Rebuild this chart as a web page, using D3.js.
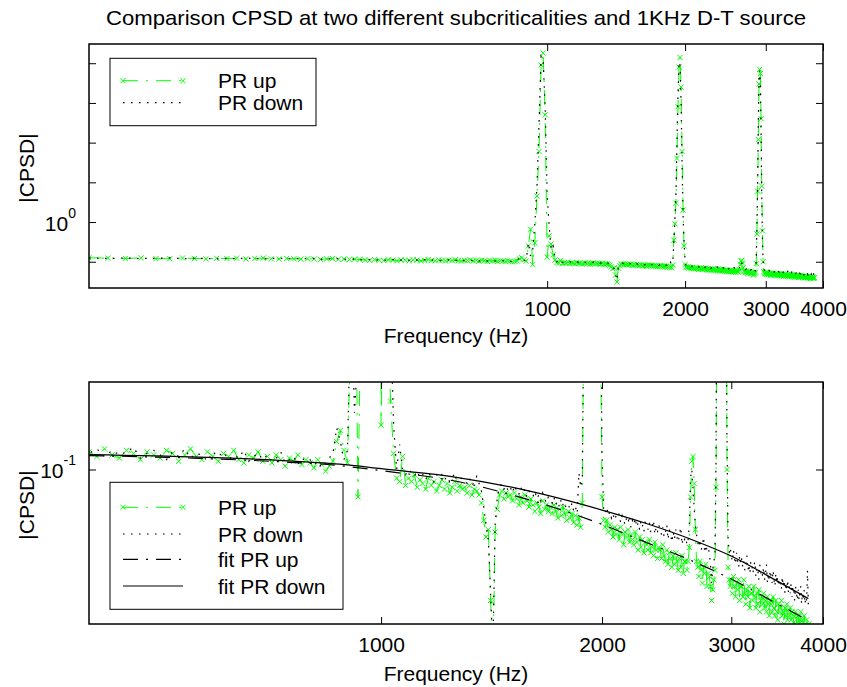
<!DOCTYPE html>
<html><head><meta charset="utf-8">
<script src="https://cdn.jsdelivr.net/npm/d3@7"></script>
<style>
body{margin:0;background:#fff}
svg text{font-family:"Liberation Sans",Arial,Helvetica,sans-serif;fill:#000}
</style>
</head><body>
<svg id="chart" width="847" height="687"></svg>
<script>
// ---------------- data ----------------
const titleText = "Comparison CPSD at two different subcriticalities and 1KHz D-T source";
const xLabelText = "Frequency (Hz)";
const yLabelText = "|CPSD|";
// FFT bin grid (Hz)
const freqStartHz = 100, freqStepHz = 10;
// |CPSD| "PR up" (one value per bin, 100 ... 3830 Hz)
const prUp = [
 .126,.123,.121,.125,.120,.119,.124,.121,.118,.122,
 .120,.123,.118,.121,.124,.118,.117,.121,.119,.116,
 .119,.117,.114,.118,.120,.115,.117,.113,.116,.114,
 .111,.108,.113,.109,.107,.112,.110,.106,.111,.109,
 .107,.112,.110,.105,.109,.113,.108,.106,.111,.108,
 .105,.110,.108,.112,.106,.104,.109,.107,.111,.105,
 .108,.104,.109,.106,.102,.107,.105,.109,.103,.106,
 .104,.101,.106,.103,.099,.102,.105,.118,.126,.112,
 .104,.25,.66,.085,.30,4.5,60,9000,18000,500,
 .13,.45,.28,.15,.11,.095,.093,.108,.091,.095,
 .093,.097,.090,.094,.092,.089,.095,.091,.093,.088,
 .091,.094,.089,.092,.087,.090,.093,.088,.091,.089,
 .090,.087,.091,.086,.089,.088,.086,.082,.074,.067,
 .070,.046,.031,.069,.079,.086,.088,.084,.087,.085,
 .086,.083,.087,.084,.081,.085,.082,.086,.083,.080,
 .084,.081,.078,.082,.080,.077,.083,.079,.081,.078,
 .080,.077,.081,.078,.075,.079,.076,.080,.077,.074,
 .078,.075,.077,.073,.076,.072,.075,.071,.082,.35,
 .90,3,40,800,8000,14000,2500,60,2,.25,
 .085,.074,.071,.074,.069,.072,.070,.067,.071,.068,
 .070,.066,.071,.068,.064,.069,.067,.070,.065,.068,
 .066,.064,.069,.065,.062,.067,.063,.066,.061,.065,
 .064,.062,.066,.061,.063,.060,.065,.062,.059,.063,
 .062,.059,.064,.060,.058,.062,.057,.061,.059,.056,
 .060,.057,.061,.058,.055,.059,.056,.060,.054,.058,
 .058,.055,.058,.063,.085,.105,.108,.092,.070,.058,
 .056,.053,.058,.055,.051,.056,.054,.057,.050,.054,
 .053,.050,.046,.049,.052,.055,.090,.50,6,120,
 3000,7000,5500,400,8,.60,.10,.056,.052,.050,
 .052,.048,.053,.050,.047,.051,.049,.052,.046,.050,
 .050,.047,.052,.048,.045,.049,.047,.050,.044,.048,
 .048,.046,.050,.047,.044,.048,.045,.049,.043,.046,
 .047,.045,.048,.044,.046,.043,.047,.045,.042,.046,
 .045,.043,.047,.044,.042,.046,.043,.041,.045,.043,
 .044,.046,.042,.043,.040,.044,.042,.045,.041,.043,
 .042,.044,.041,.043,.039,.042,.040,.043,.041,.039,
 .042,.040,.041,.043,.039,.041,.038,.042,.040,.039,
 .041,.039,.038,.040
];
// |CPSD| "PR down"
const prDown = [
 .124,.121,.125,.120,.122,.126,.119,.123,.121,.118,
 .122,.119,.124,.120,.117,.121,.123,.118,.120,.122,
 .118,.121,.116,.119,.117,.120,.115,.118,.116,.113,
 .110,.113,.108,.112,.109,.111,.114,.107,.110,.112,
 .109,.106,.111,.108,.113,.107,.110,.109,.105,.111,
 .108,.111,.106,.109,.107,.112,.105,.108,.110,.106,
 .109,.105,.107,.111,.104,.106,.108,.103,.107,.105,
 .106,.103,.105,.101,.104,.107,.110,.128,.118,.106,
 .112,.30,.14,.20,.90,8,300,15000,12000,800,
 5,.80,.20,.25,.13,.10,.116,.099,.097,.100,
 .098,.096,.099,.095,.097,.094,.098,.096,.093,.097,
 .095,.097,.094,.096,.093,.095,.098,.092,.096,.094,
 .094,.092,.095,.091,.093,.096,.092,.088,.080,.072,
 .066,.048,.034,.072,.085,.090,.092,.089,.091,.088,
 .090,.087,.091,.088,.086,.090,.087,.089,.085,.088,
 .087,.085,.088,.084,.086,.083,.087,.084,.082,.085,
 .084,.082,.085,.081,.083,.080,.084,.081,.079,.082,
 .081,.079,.082,.078,.080,.077,.098,.090,.095,.30,
 1.2,5,100,1500,11000,9000,1200,30,1.5,.30,
 .110,.079,.077,.080,.076,.078,.075,.077,.074,.076,
 .075,.077,.073,.076,.074,.072,.075,.073,.076,.071,
 .074,.072,.075,.071,.073,.070,.074,.072,.069,.073,
 .072,.070,.073,.069,.071,.074,.068,.071,.069,.072,
 .070,.068,.071,.067,.069,.072,.066,.070,.068,.065,
 .069,.066,.070,.067,.065,.068,.071,.064,.067,.066,
 .067,.064,.066,.072,.095,.100,.090,.080,.072,.068,
 .065,.063,.066,.062,.064,.067,.061,.064,.062,.063,
 .061,.057,.051,.055,.058,.060,.11,.80,10,300,
 5000,6500,3000,200,5,.40,.12,.066,.061,.063,
 .060,.058,.062,.059,.057,.061,.058,.056,.060,.057,
 .059,.056,.058,.055,.057,.060,.055,.057,.054,.058,
 .057,.054,.056,.058,.053,.056,.055,.052,.057,.054,
 .055,.053,.056,.052,.054,.057,.051,.054,.052,.055,
 .053,.051,.055,.052,.050,.054,.051,.053,.050,.052,
 .052,.049,.053,.050,.052,.048,.051,.049,.052,.048,
 .050,.048,.051,.047,.050,.049,.046,.050,.048,.046,
 .049,.046,.048,.050,.045,.048,.046,.049,.045,.047,
 .046,.055,.045,.044
];
// fitted curves (read at these frequencies)
const fitFreq   = [400, 566, 718, 878, 1000, 1260, 1545, 2000, 2287, 2633, 3013, 3385, 3820];
const fitPrUp   = [.1086,.1068,.1048,.1023,.0993,.0934,.0849,.0722,.0651,.0585,.0520,.0462,.0408];
const fitPrDown = [.1092,.1076,.1057,.1032,.1005,.0956,.0891,.0786,.0728,.0663,.0596,.0529,.0465];
// ticks
const xTickValues = [1000, 2000, 3000, 4000];
const xTickLabels = ["1000", "2000", "3000", "4000"];
const yTickValuesTop = [0.1, 1, 10, 100, 1000, 10000];
const yTickExpTop    = ["", "0", "", "", "", ""];
const yTickValuesBot = [0.1];
const yTickExpBot    = ["-1"];
const legendTop = ["PR up", "PR down"];
const legendBot = ["PR up", "PR down", "fit PR up", "fit PR down"];

// ---------------- drawing ----------------
const svg = d3.select("#chart");
const GREEN = "#00ff00";
const DASHDOT = "15,8,2,8";
const DOTTED = "1.6,6.4";
const L = 89, R = 823, FS = 21;

const freq = prUp.map((_, i) => freqStartHz + i * freqStepHz);
const rows = freq.map((f, i) => ({f, up: prUp[i], down: prDown[i]}));
const fitRows = fitFreq.map((f, i) => ({f, up: fitPrUp[i], down: fitPrDown[i]}));

svg.append("text").attr("x", 456).attr("y", 25).attr("text-anchor", "middle")
  .attr("font-size", FS).attr("textLength", 700).attr("lengthAdjust", "spacingAndGlyphs")
  .text(titleText);

const xMark = "M-2.6,-2.6L2.6,2.6M-2.6,2.6L2.6,-2.6";

function drawPanel(p) {
  const g = svg.append("g");
  const x = d3.scaleLog().domain(p.xDomain).range([L, R]);
  const y = d3.scaleLog().domain(p.yDomain).range([p.bottom, p.top]);
  const clipId = "clip-" + p.id;
  svg.append("clipPath").attr("id", clipId).append("rect")
    .attr("x", L).attr("y", p.top).attr("width", R - L).attr("height", p.bottom - p.top);
  const plot = g.append("g").attr("clip-path", `url(#${clipId})`);

  const lineUp = d3.line().x(d => x(d.f)).y(d => y(d.up));
  const lineDown = d3.line().x(d => x(d.f)).y(d => y(d.down));
  plot.append("path").datum(rows).attr("d", lineUp).attr("fill", "none")
    .attr("stroke", GREEN).attr("stroke-width", 1).attr("stroke-dasharray", DASHDOT);
  plot.append("g").selectAll("path").data(rows).join("path")
    .attr("transform", d => `translate(${x(d.f)},${y(d.up)})`)
    .attr("d", xMark).attr("stroke", GREEN).attr("stroke-width", 1).attr("fill", "none");
  plot.append("path").datum(rows).attr("d", lineDown).attr("fill", "none")
    .attr("stroke", "#000").attr("stroke-width", 1.2).attr("stroke-dasharray", DOTTED);

  if (p.fits) {
    const fitUp = d3.line().curve(d3.curveMonotoneX).x(d => x(d.f)).y(d => y(d.up));
    const fitDown = d3.line().curve(d3.curveMonotoneX).x(d => x(d.f)).y(d => y(d.down));
    plot.append("path").datum(fitRows).attr("d", fitUp).attr("fill", "none")
      .attr("stroke", "#000").attr("stroke-width", 1.2).attr("stroke-dasharray", DASHDOT);
    plot.append("path").datum(fitRows).attr("d", fitDown).attr("fill", "none")
      .attr("stroke", "#000").attr("stroke-width", 1.2);
  }

  // axes (ticks inside, MATLAB style)
  const styleAxis = sel => {
    sel.select(".domain").remove();
    sel.attr("font-size", null).attr("font-family", null);
    sel.selectAll(".tick line").attr("stroke", "#000");
    sel.selectAll("text").attr("font-size", FS).attr("fill", "#000");
  };
  g.append("g").attr("transform", `translate(0,${p.bottom})`)
    .call(d3.axisBottom(x).tickValues(xTickValues).tickFormat((d, i) => xTickLabels[i])
      .tickSizeInner(-7).tickSizeOuter(0).tickPadding(13)).call(styleAxis);
  g.append("g").attr("transform", `translate(0,${p.top})`)
    .call(d3.axisTop(x).tickValues(xTickValues).tickFormat(() => "")
      .tickSizeInner(-7).tickSizeOuter(0)).call(styleAxis);
  const yl = g.append("g").attr("transform", `translate(${L},0)`)
    .call(d3.axisLeft(y).tickValues(p.yTicks).tickFormat(() => "")
      .tickSizeInner(-7).tickSizeOuter(0).tickPadding(13)).call(styleAxis);
  yl.selectAll(".tick text").each(function(d, i) {
    const exp = p.yExp[i];
    const t = d3.select(this).attr("dy", "0.38em");
    if (!exp) return;
    t.append("tspan").text("10");
    t.append("tspan").attr("dy", -13).attr("font-size", 14).text(exp);
  });
  g.append("g").attr("transform", `translate(${R},0)`)
    .call(d3.axisRight(y).tickValues(p.yTicks).tickFormat(() => "")
      .tickSizeInner(-7).tickSizeOuter(0)).call(styleAxis);

  g.append("rect").attr("x", L).attr("y", p.top).attr("width", R - L).attr("height", p.bottom - p.top)
    .attr("fill", "none").attr("stroke", "#000").attr("stroke-width", 1.5);

  g.append("text").attr("x", (L + R) / 2).attr("y", p.xLabelY).attr("text-anchor", "middle")
    .attr("font-size", FS).text(xLabelText);
  g.append("text").attr("transform", `translate(34,${p.yLabelY}) rotate(-90)`)
    .attr("text-anchor", "middle").attr("font-size", FS).text(yLabelText);

  // legend
  const lg = g.append("g");
  lg.append("rect").attr("x", p.legend.x).attr("y", p.legend.y).attr("width", p.legend.w)
    .attr("height", p.legend.h).attr("fill", "#fff").attr("stroke", "#000").attr("stroke-width", 1);
  const styles = [
    {stroke: GREEN, dash: DASHDOT, marker: true},
    {stroke: "#000", dash: DOTTED},
    {stroke: "#000", dash: DASHDOT},
    {stroke: "#000", dash: null}
  ];
  p.legend.items.forEach((name, i) => {
    const ry = p.legend.rows[i], s = styles[i];
    lg.append("line").attr("x1", 123).attr("x2", 183).attr("y1", ry).attr("y2", ry)
      .attr("stroke", s.stroke).attr("stroke-width", s.stroke === GREEN ? 1 : 1.2)
      .attr("stroke-dasharray", s.dash);
    if (s.marker) {
      [123, 183].forEach(mx => lg.append("path").attr("d", xMark)
        .attr("transform", `translate(${mx},${ry})`).attr("stroke", GREEN).attr("fill", "none"));
    }
    lg.append("text").attr("x", 218).attr("y", ry + 7.6).attr("font-size", FS).text(name);
  });
}

drawPanel({id: "top", xDomain: [100, 4000], yDomain: [0.0218, 30500], top: 44, bottom: 288,
  yTicks: yTickValuesTop, yExp: yTickExpTop, fits: false, xLabelY: 342.5, yLabelY: 168,
  legend: {x: 110, y: 58.3, w: 206, h: 67.4, rows: [80.7, 102.7], items: legendTop}});
drawPanel({id: "bot", xDomain: [400, 4000], yDomain: [0.04, 0.168], top: 382, bottom: 624,
  yTicks: yTickValuesBot, yExp: yTickExpBot, fits: true, xLabelY: 680.5, yLabelY: 505,
  legend: {x: 110, y: 482.3, w: 233, h: 127, rows: [507.3, 534, 559.3, 586], items: legendBot}});
</script>
</body></html>
